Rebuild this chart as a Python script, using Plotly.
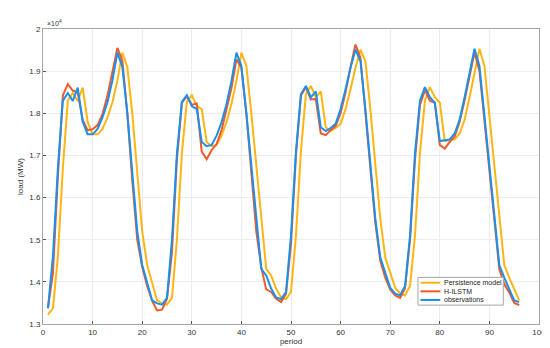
import plotly.graph_objects as go

period = list(range(1, 97))

observations = [
    13370, 14600, 16700, 18300, 18480, 18290, 18610, 17800, 17500, 17500, 17630, 17900,
    18260, 18780, 19440, 19100, 18000, 16600, 15200, 14400, 13950, 13560, 13490, 13460,
    13620, 15000, 17050, 18270, 18430, 18170, 18100, 17320, 17220, 17250, 17470, 17790,
    18220, 18770, 19440, 19120, 18000, 16800, 15600, 14310, 14150, 13840, 13630, 13590,
    13760, 15100, 17100, 18450, 18650, 18380, 18520, 17670, 17580, 17650, 17750, 18100,
    18570, 19080, 19510, 19240, 18100, 16800, 15500, 14580, 14200, 13860, 13720, 13680,
    13900, 15100, 17050, 18300, 18620, 18380, 18250, 17340, 17360, 17380, 17520, 17850,
    18380, 18980, 19530, 19120, 17900, 16700, 15500, 14400, 14100, 13840, 13560, 13520,
]

h_ilstm = [
    13380, 14200, 16500, 18420, 18690, 18540, 18500, 17840, 17600, 17620, 17720, 17980,
    18420, 18950, 19550, 19250, 18000, 16400, 15000, 14350, 13900, 13550, 13320, 13340,
    13600, 14700, 16900, 18250, 18400, 18200, 18230, 17090, 16910, 17130, 17270, 17600,
    18100, 18600, 19280, 19080, 18000, 16600, 15200, 14350, 13820, 13760, 13600, 13520,
    13720, 14900, 17000, 18420, 18620, 18330, 18340, 17520, 17480, 17600, 17700, 18000,
    18500, 19100, 19630, 19320, 18100, 16700, 15400, 14500, 14100, 13820, 13680, 13620,
    13850, 15000, 16900, 18200, 18550, 18300, 18250, 17250, 17160, 17320, 17450, 17800,
    18300, 18900, 19450, 19000, 17800, 16600, 15400, 14300, 13950, 13750, 13500, 13450,
]

persistence = [
    13220, 13370, 14600, 16700, 18300, 18480, 18290, 18610, 17800, 17500, 17500, 17630,
    17900, 18260, 18780, 19440, 19100, 18000, 16600, 15200, 14400, 13950, 13560, 13490,
    13460, 13620, 15000, 17050, 18270, 18430, 18170, 18100, 17320, 17220, 17250, 17470,
    17790, 18220, 18770, 19440, 19120, 18000, 16800, 15600, 14310, 14150, 13840, 13630,
    13590, 13760, 15100, 17100, 18450, 18650, 18380, 18520, 17670, 17580, 17650, 17750,
    18100, 18570, 19080, 19510, 19240, 18100, 16800, 15500, 14580, 14200, 13860, 13720,
    13680, 13900, 15100, 17050, 18300, 18620, 18380, 18250, 17340, 17360, 17380, 17520,
    17850, 18380, 18980, 19530, 19120, 17900, 16700, 15500, 14400, 14100, 13840, 13560,
]

series_names = ["Persistence model", "H-ILSTM", "observations"]
series_colors = ["#FDB515", "#F05A2A", "#1B8FEA"]

x_ticks = list(range(0, 101, 10))
y_ticks = [13000, 14000, 15000, 16000, 17000, 18000, 19000, 20000]
y_tick_labels = ["1.3", "1.4", "1.5", "1.6", "1.7", "1.8", "1.9", "2"]

FONT = "Liberation Sans, Arial, Helvetica, sans-serif"
TXT = "#333333"

fig = go.Figure()
for name, vals, col in zip(series_names, [persistence, h_ilstm, observations], series_colors):
    fig.add_trace(go.Scatter(x=period, y=vals, mode="lines", name=name,
                             line=dict(color=col, width=2), showlegend=False))

axis_common = dict(showgrid=True, gridcolor="#ececec", gridwidth=1, zeroline=False,
                   showline=True, linecolor="#a6a6a6", linewidth=1, mirror=True,
                   ticks="inside", ticklen=3, tickcolor="#555555",
                   tickfont=dict(family=FONT, size=8, color=TXT))

# compact MATLAB-style legend box drawn in paper coordinates
shapes = [dict(type="rect", xref="paper", yref="paper", x0=0.756, x1=0.928, y0=0.064, y1=0.158,
               fillcolor="white", line=dict(color="#a6a6a6", width=1), layer="above")]
annotations = [dict(xref="paper", yref="paper", x=0.0, y=1.0, xanchor="left", yanchor="bottom",
                    text="×10<sup>4</sup>", showarrow=False, xshift=2,
                    font=dict(family=FONT, size=7, color=TXT))]
legend_rows = [0.140, 0.1107, 0.0815]
for name, col, yy in zip(series_names, series_colors, legend_rows):
    shapes.append(dict(type="line", xref="paper", yref="paper", x0=0.761, x1=0.801, y0=yy, y1=yy,
                       line=dict(color=col, width=2), layer="above"))
    annotations.append(dict(xref="paper", yref="paper", x=0.8036, y=yy, xanchor="left",
                            yanchor="middle", text=name, showarrow=False,
                            font=dict(family=FONT, size=7, color="#222222")))

fig.update_layout(
    width=550, height=348,
    margin=dict(l=32, r=14, t=21, b=29),
    paper_bgcolor="white", plot_bgcolor="white",
    font=dict(family=FONT, size=8, color=TXT),
    xaxis=dict(range=[0, 100], tickvals=x_ticks, **axis_common,
               title=dict(text="period", font=dict(family=FONT, size=8, color=TXT), standoff=2)),
    yaxis=dict(range=[13000, 20000], tickvals=y_ticks, ticktext=y_tick_labels, **axis_common,
               title=dict(text="load (MW)", font=dict(family=FONT, size=8, color=TXT), standoff=4)),
    showlegend=False,
    shapes=shapes,
    annotations=annotations,
)

fig.write_html("out.html")
